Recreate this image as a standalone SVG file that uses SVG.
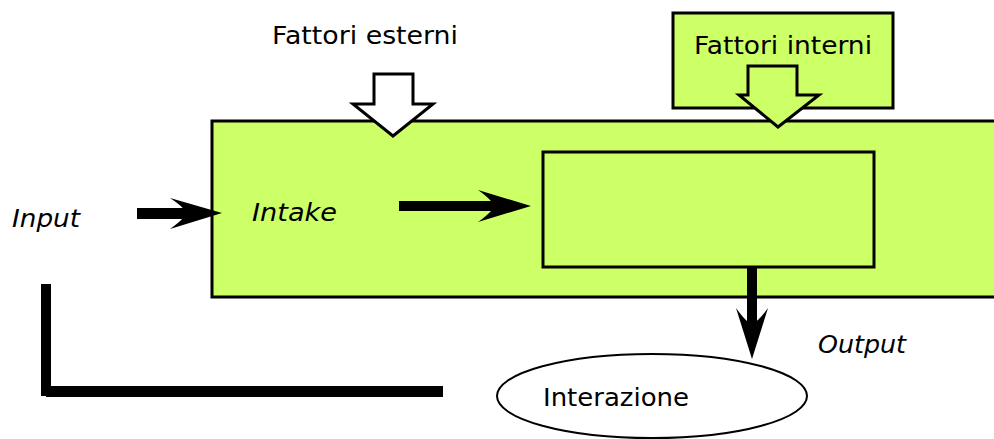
<svg xmlns="http://www.w3.org/2000/svg" width="994" height="439" viewBox="0 0 994 439">
  <style>
    .box { fill: #cdff66; stroke: #000; stroke-width: 3; }
    .inner { fill: none; stroke: #000; stroke-width: 3; }
    .hollow { fill: #fff; stroke: #000; stroke-width: 3; stroke-linejoin: miter; }
    .hollow-g { fill: #cdff66; stroke: #000; stroke-width: 3; stroke-linejoin: miter; }
    .solid { fill: #000; stroke: none; }
    .lbl { font-family: "DejaVu Sans", "Liberation Sans", sans-serif; font-size: 24px; fill: #000; }
    .it { font-style: italic; }
  </style>
  <rect width="994" height="439" fill="#fff"/>

  <g id="sistema">
    <rect class="box" x="212" y="121" width="800" height="176"/>
  </g>

  <g id="processo">
    <rect class="inner" x="543" y="152" width="331" height="115"/>
  </g>

  <g id="fattori-interni">
    <rect class="box" x="673" y="13" width="220" height="95"/>
    <text class="lbl" x="694" y="54" textLength="178" lengthAdjust="spacingAndGlyphs">Fattori interni</text>
  </g>

  <g id="fattori-esterni">
    <text class="lbl" x="272" y="44" textLength="186" lengthAdjust="spacingAndGlyphs">Fattori esterni</text>
  </g>

  <g id="interazione">
    <ellipse cx="652" cy="396" rx="155" ry="42" fill="#fff" stroke="#000" stroke-width="2"/>
    <text class="lbl" x="543" y="406" textLength="146" lengthAdjust="spacingAndGlyphs">Interazione</text>
  </g>

  <g id="etichette">
    <text class="lbl it" x="12" y="227" textLength="68" lengthAdjust="spacingAndGlyphs">Input</text>
    <text class="lbl it" x="252" y="221" textLength="85" lengthAdjust="spacingAndGlyphs">Intake</text>
    <text class="lbl it" x="818" y="353" textLength="88" lengthAdjust="spacingAndGlyphs">Output</text>
  </g>

  <g id="connettori">
    <!-- hollow arrow from external factors -->
    <polygon class="hollow" points="374,74 413,74 413,104 433,104 393,136 353,104 374,104"/>
    <!-- hollow arrow from internal factors -->
    <polygon class="hollow-g" points="748,66 797,66 797,95 819,95 778,127 739,95 748,95"/>
    <!-- input arrow -->
    <rect class="solid" x="137" y="208" width="50" height="11"/>
    <path class="solid" d="M222,213 L170,198 Q188,210 184,213 Q188,216 170,229 Z"/>
    <!-- intake arrow -->
    <rect class="solid" x="399" y="201" width="95" height="10"/>
    <path class="solid" d="M531,206 L478,190 Q496,203 492,206 Q496,209 478,222 Z"/>
    <!-- output arrow -->
    <rect class="solid" x="747" y="267" width="10" height="56"/>
    <path class="solid" d="M752,359 L736,308 Q749,326 752,322 Q755,326 768,308 Z"/>
    <!-- feedback line -->
    <rect class="solid" x="41" y="284" width="10" height="112"/>
    <rect class="solid" x="46" y="386" width="397" height="11"/>
  </g>
</svg>
